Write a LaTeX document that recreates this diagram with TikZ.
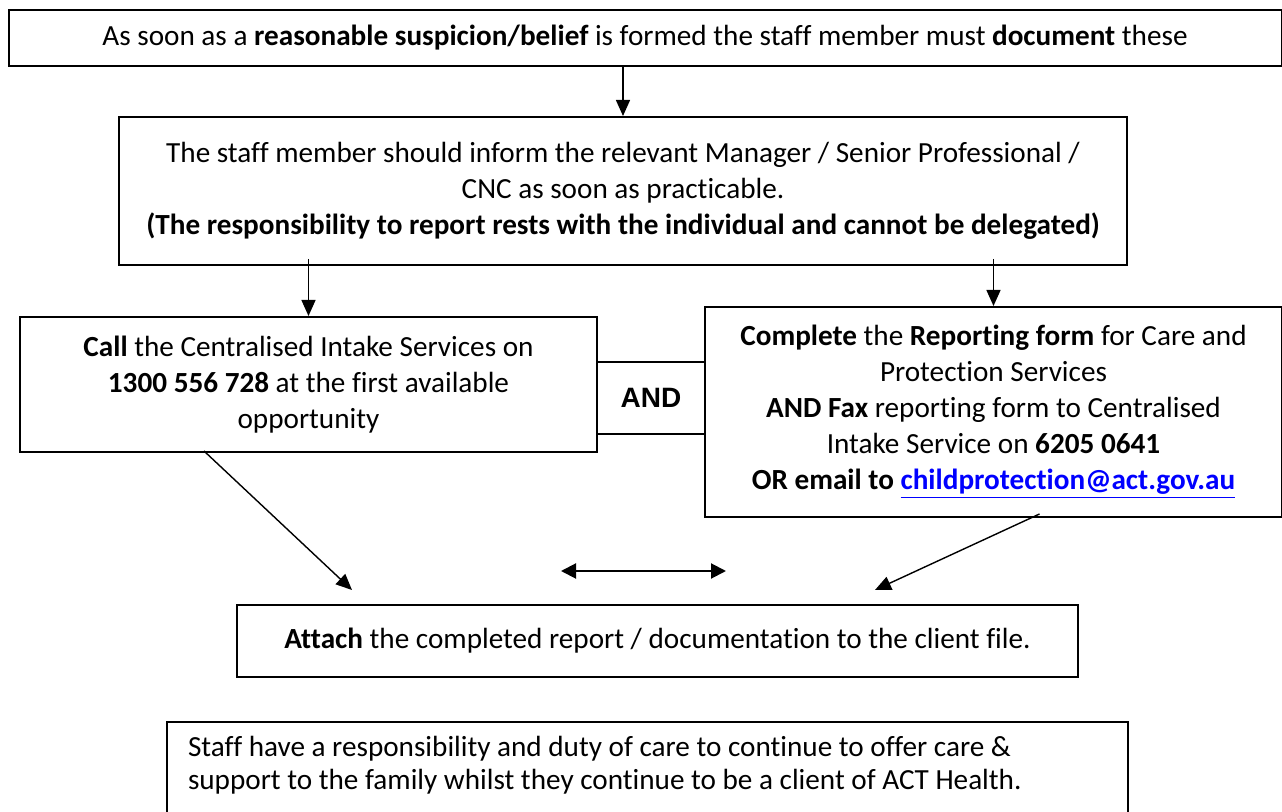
\documentclass[tikz,border=0pt]{standalone}
\usepackage{fontspec}
\setmainfont{Carlito}[Ligatures=NoCommon]
\newfontfamily\andfont{Liberation Sans}
\usetikzlibrary{arrows.meta}
\definecolor{linkblue}{RGB}{0,0,255}

\begin{document}
\begin{tikzpicture}[x=0.5pt,y=-0.5pt,
box/.style={draw,line width=1pt,rectangle,inner sep=0pt,align=center,
    font=\fontsize{14.6}{18}\selectfont},
arr/.style={line width=0.7pt,-{Triangle[length=8pt,width=7pt]}},
dblarr/.style={line width=1pt,{Triangle[length=7.5pt,width=7.5pt]}-{Triangle[length=7.5pt,width=7.5pt]}}]
\useasboundingbox (0,0) rectangle (1282,812);
\node (formed) [box,minimum width=636.5pt,minimum height=28pt] at (645,38)
    {As soon as a \textbf{reasonable suspicion/belief} is formed the staff member must \textbf{document} these};
\node (inform) [box,minimum width=504pt,minimum height=74pt] at (623,191)
    {The staff member should inform the relevant Manager / Senior Professional /\\
    CNC as soon as practicable.\\
    \textbf{(The responsibility to report rests with the individual and cannot be delegated)}};
\node (call) [box,minimum width=288.5pt,minimum height=67.5pt] at (308.5,384.5)
    {\textbf{Call} the Centralised Intake Services on\\
    \textbf{1300 556 728} at the first available\\
    opportunity};
\node (and) [box,minimum width=54pt,minimum height=36pt,
    font=\andfont\bfseries\fontsize{14}{16}\selectfont] at (651,398) {AND};
\node (complete) [box,minimum width=288.5pt,minimum height=105pt] at (993.5,412)
    {\textbf{Complete} the \textbf{Reporting form} for Care and\\
    Protection Services\\
    \textbf{AND Fax} reporting form to Centralised\\
    Intake Service on \textbf{6205 0641}\\
    \textbf{OR email to \textcolor{linkblue}{\underline{childprotection@act.gov.au}}}};
\node (attach) [box,minimum width=420.5pt,minimum height=36pt] at (657.5,641)
    {\textbf{Attach} the completed report / documentation to the client file.};
\node (staff) [box,anchor=north west,inner xsep=10.5pt,inner ysep=7pt] at (166,721)
    {\parbox[t][60pt][t]{459.5pt}{\raggedright\fontsize{14.6}{16.5}\selectfont
    Staff have a responsibility and duty of care to continue to offer care \&\\
    support to the family whilst they continue to be a client of ACT Health.}};
\draw[arr] (formed.south -| inform.north) -- (inform.north);
\draw[arr] ([yshift=3.5pt]inform.south -| call.north) -- (call.north);
\draw[arr] ([yshift=3.5pt]inform.south -| complete.north) -- (complete.north);
\coordinate (callend) at (352,590);
\coordinate (completeend) at (875,590);
\draw[arr] ([xshift=-52.25pt,yshift=1pt]call.south) -- (callend);
\draw[arr] ([xshift=23pt,yshift=2pt]complete.south) -- (completeend);
\coordinate (bothleft) at (561,571);
\coordinate (bothright) at (726,571);
\draw[dblarr] (bothleft) -- (bothright);
\end{tikzpicture}
\end{document}
